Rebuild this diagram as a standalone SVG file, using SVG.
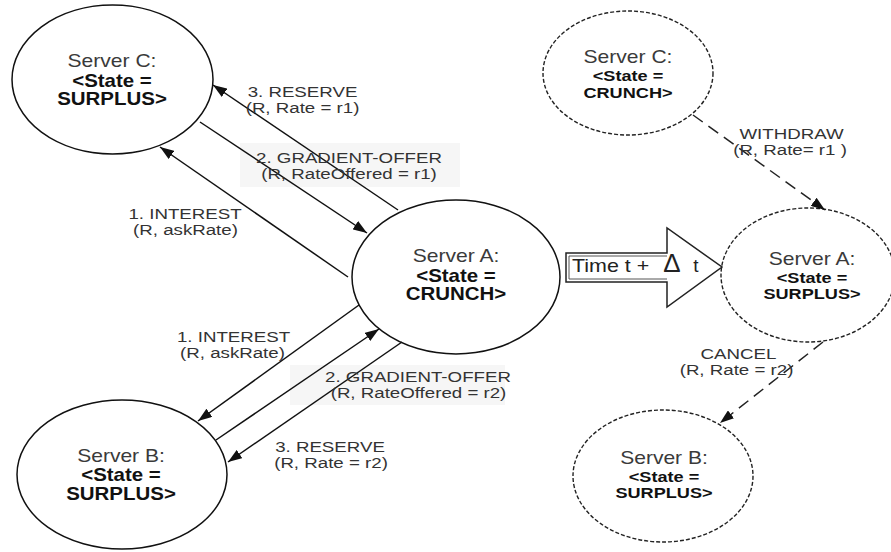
<svg xmlns="http://www.w3.org/2000/svg" width="891" height="552" viewBox="0 0 891 552">
<defs>
<marker id="ah" viewBox="0 0 14 10" refX="14" refY="5" markerWidth="14" markerHeight="10" markerUnits="userSpaceOnUse" orient="auto">
<path d="M0,0 L14,5 L0,10 z" fill="#111"/>
</marker>
<style>
text{font-family:"Liberation Sans",Arial,sans-serif;text-anchor:middle}
.s{font-size:18px;fill:#3a3a3a}
.b{font-size:17.5px;font-weight:bold;fill:#111}
.rb{font-size:15.5px;font-weight:bold;fill:#111}
.l{font-size:14.5px;fill:#333}
.node{fill:#fff;stroke:#111;stroke-width:1.5}
.dnode{fill:#fff;stroke:#222;stroke-width:1.4;stroke-dasharray:4 2}
.c{stroke:#111;stroke-width:1.5;fill:none;marker-end:url(#ah)}
.dc{stroke:#222;stroke-width:1.5;fill:none;stroke-dasharray:12 7;marker-end:url(#ah)}
.bg{fill:#f6f6f6}
</style>
</defs>
<rect width="891" height="552" fill="#fff"/>
<g id="label-bg">
<rect class="bg" x="240" y="143" width="220" height="44"/>
<rect class="bg" x="290" y="365" width="215" height="40"/>
</g>
<g id="nodeC">
<ellipse class="node" cx="112.5" cy="79.5" rx="100.5" ry="74.5"/>
<text class="s" transform="translate(112,67) scale(1.17,1)">Server C:</text>
<text class="b" transform="translate(112,87) scale(1.17,1)">&lt;State =</text>
<text class="b" transform="translate(112,105) scale(1.17,1)">SURPLUS&gt;</text>
</g>
<g id="nodeA">
<ellipse class="node" cx="456" cy="277" rx="104" ry="77"/>
<text class="s" transform="translate(456,262) scale(1.17,1)">Server A:</text>
<text class="b" transform="translate(456,282) scale(1.17,1)">&lt;State =</text>
<text class="b" transform="translate(456,300) scale(1.17,1)">CRUNCH&gt;</text>
</g>
<g id="nodeB">
<ellipse class="node" cx="122" cy="474.5" rx="105" ry="74.5"/>
<text class="s" transform="translate(121,462) scale(1.17,1)">Server B:</text>
<text class="b" transform="translate(121,481) scale(1.17,1)">&lt;State =</text>
<text class="b" transform="translate(121,500) scale(1.17,1)">SURPLUS&gt;</text>
</g>
<g id="nodeC2">
<ellipse class="dnode" cx="628" cy="73" rx="85" ry="62"/>
<text class="s" transform="translate(628,63) scale(1.17,1)">Server C:</text>
<text class="rb" transform="translate(628,81) scale(1.17,1)">&lt;State =</text>
<text class="rb" transform="translate(628,98) scale(1.17,1)">CRUNCH&gt;</text>
</g>
<g id="nodeA2">
<ellipse class="dnode" cx="808" cy="275" rx="87" ry="67"/>
<text class="s" transform="translate(812,265) scale(1.17,1)">Server A:</text>
<text class="rb" transform="translate(812,283) scale(1.17,1)">&lt;State =</text>
<text class="rb" transform="translate(812,299) scale(1.17,1)">SURPLUS&gt;</text>
</g>
<g id="nodeB2">
<ellipse class="dnode" cx="663" cy="476" rx="90" ry="66"/>
<text class="s" transform="translate(664,464) scale(1.17,1)">Server B:</text>
<text class="rb" transform="translate(664,482) scale(1.17,1)">&lt;State =</text>
<text class="rb" transform="translate(664,498) scale(1.17,1)">SURPLUS&gt;</text>
</g>
<g id="time-arrow">
<polygon points="566,253 667,253 667,228 722,267 667,307 667,282 566,282" fill="#fff" stroke="#222" stroke-width="1.5"/>
<polyline points="667,279 569,279 569,256 667,256" fill="none" stroke="#555" stroke-width="1"/>
<text class="s" style="font-size:19px;text-anchor:start;fill:#222" transform="translate(572,272) scale(1.13,1)">Time t +</text>
<text style="font-size:26px;fill:#222" x="672" y="272">Δ</text>
<text style="font-size:19px;fill:#222" x="696" y="272">t</text>
</g>
<g id="connectors">
<line class="c" x1="348" y1="277" x2="160" y2="147"/>
<line class="c" x1="200" y1="122" x2="367" y2="233"/>
<line class="c" x1="398" y1="210" x2="213" y2="85"/>
<line class="c" x1="359" y1="305" x2="198" y2="421"/>
<line class="c" x1="216" y1="440" x2="379" y2="329"/>
<line class="c" x1="402" y1="342" x2="228" y2="462"/>
<line class="dc" x1="693" y1="115" x2="825" y2="210"/>
<line class="dc" x1="823" y1="342" x2="720" y2="423"/>
</g>
<g id="labels">
<text class="l" transform="translate(302.5,97) scale(1.29,1)">3. RESERVE</text>
<text class="l" transform="translate(302.5,113) scale(1.29,1)">(R, Rate = r1)</text>
<text class="l" transform="translate(349,163) scale(1.29,1)">2. GRADIENT-OFFER</text>
<text class="l" transform="translate(349,179) scale(1.29,1)">(R, RateOffered = r1)</text>
<text class="l" transform="translate(185,219) scale(1.29,1)">1. INTEREST</text>
<text class="l" transform="translate(185.5,235) scale(1.29,1)">(R, askRate)</text>
<text class="l" transform="translate(233.5,342) scale(1.29,1)">1. INTEREST</text>
<text class="l" transform="translate(232.5,358) scale(1.29,1)">(R, askRate)</text>
<text class="l" transform="translate(418,382) scale(1.29,1)">2. GRADIENT-OFFER</text>
<text class="l" transform="translate(418.5,398) scale(1.29,1)">(R, RateOffered = r2)</text>
<text class="l" transform="translate(330,452) scale(1.29,1)">3. RESERVE</text>
<text class="l" transform="translate(331,468) scale(1.29,1)">(R, Rate = r2)</text>
<text class="l" transform="translate(791.5,139) scale(1.29,1)">WITHDRAW</text>
<text class="l" transform="translate(790,155) scale(1.29,1)">(R, Rate= r1 )</text>
<text class="l" transform="translate(738.5,359) scale(1.29,1)">CANCEL</text>
<text class="l" transform="translate(736.5,375) scale(1.29,1)">(R, Rate = r2)</text>
</g>
</svg>
